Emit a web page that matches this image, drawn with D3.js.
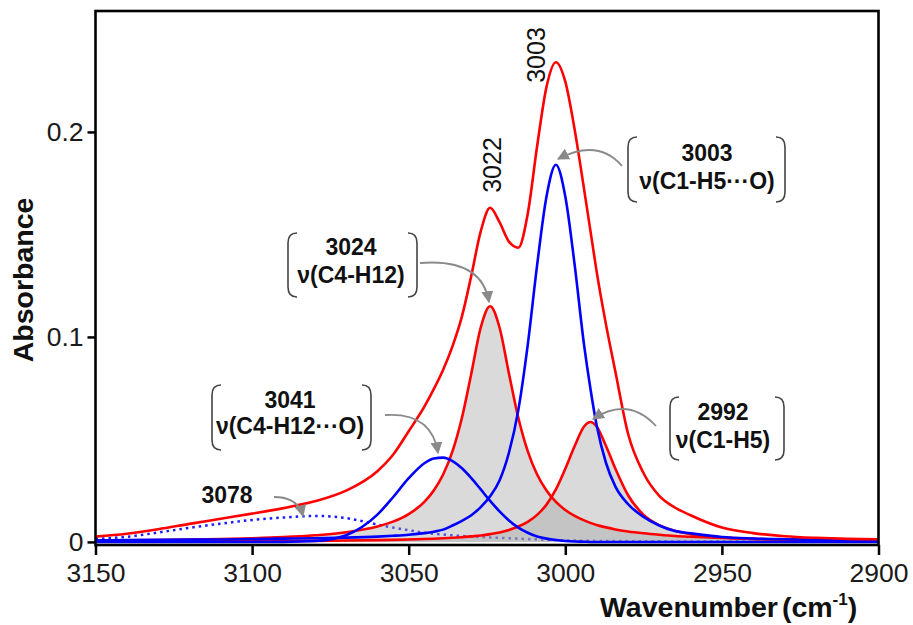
<!DOCTYPE html>
<html>
<head>
<meta charset="utf-8">
<script src="https://cdn.jsdelivr.net/npm/d3@7"></script>
<style>
  html, body { margin: 0; padding: 0; background: #fff; }
  svg { display: block; font-family: "Liberation Sans", Arial, sans-serif; }
</style>
</head>
<body>
<svg width="913" height="625"></svg>
<script>
// wavenumber grid (cm-1) shared by every trace
const wavenumbers = [3150, 3140, 3130, 3120, 3110, 3100, 3090, 3080, 3070, 3060, 3055, 3050, 3045, 3042, 3039,
  3036, 3033, 3030, 3027, 3024, 3021, 3018, 3015, 3012, 3009, 3006, 3003, 3000, 2997, 2994,
  2992, 2990, 2987, 2984, 2980, 2975, 2970, 2965, 2960, 2950, 2940, 2930, 2920, 2910, 2900];

// measured envelope
const envelope = [0.0026, 0.0040, 0.0062, 0.0088, 0.0113, 0.0138, 0.0165, 0.0198, 0.0250, 0.0345, 0.0425, 0.0540, 0.0660, 0.0745, 0.0840,
  0.0955, 0.1100, 0.1300, 0.1515, 0.1630, 0.1560, 0.1465, 0.1435, 0.1600, 0.1930, 0.2220, 0.2340, 0.2245, 0.2010, 0.1720,
  0.1520, 0.1320, 0.1060, 0.0830, 0.0530, 0.0335, 0.0225, 0.0168, 0.0130, 0.0070, 0.0043, 0.0028, 0.0020, 0.0015, 0.0013];

// fitted bands
const band3024 = [0.00065, 0.00077, 0.00092, 0.00112, 0.00139, 0.00177, 0.00233, 0.00322, 0.0047, 0.0075, 0.0099, 0.0136, 0.0195, 0.0251, 0.0329,
  0.0443, 0.0606, 0.0822, 0.1046, 0.115, 0.1046, 0.0822, 0.0606, 0.0443, 0.0329, 0.0251, 0.0195, 0.0156, 0.0127, 0.0105,
  0.0093, 0.0083, 0.0071, 0.0061, 0.0051, 0.0042, 0.0035, 0.0029, 0.0025, 0.0019, 0.0015, 0.0012, 0.00095, 0.0008, 0.0007];
const band3003 = [0.0008, 0.0009, 0.0010, 0.0011, 0.0012, 0.0014, 0.0016, 0.0018, 0.0021, 0.0026, 0.0030, 0.0035, 0.0043, 0.0050, 0.0060,
  0.0080, 0.0103, 0.0130, 0.0170, 0.0223, 0.0300, 0.0435, 0.0643, 0.096, 0.135, 0.1685, 0.184, 0.1685, 0.135, 0.096,
  0.075, 0.057, 0.0385, 0.027, 0.0185, 0.0122, 0.0080, 0.0053, 0.0042, 0.0024, 0.0017, 0.0013, 0.0010, 0.0008, 0.0007];
const band2992 = [0.00016, 0.00019, 0.00022, 0.00025, 0.0003, 0.00035, 0.00043, 0.00053, 0.00067, 0.00087, 0.0010, 0.00118, 0.0014, 0.00157, 0.00177,
  0.0020, 0.0023, 0.0027, 0.0031, 0.0038, 0.0046, 0.0058, 0.0075, 0.0098, 0.0132, 0.0182, 0.0256, 0.0357, 0.0468, 0.0563,
  0.0585, 0.0563, 0.0468, 0.0357, 0.0229, 0.0132, 0.0082, 0.0054, 0.0038, 0.0022, 0.00145, 0.00103, 0.0008, 0.0006, 0.0005];
const band3041 = [0, 0, 0, 0, 0, 0, 0.00004, 0.00045, 0.0033, 0.0133, 0.0218, 0.0311, 0.0384, 0.0407, 0.0411,
  0.0394, 0.0359, 0.0311, 0.0256, 0.0200, 0.0149, 0.0105, 0.0070, 0.0045, 0.0027, 0.0016, 0.0009, 0.00045, 0.0002, 0.0001,
  0, 0, 0, 0, 0, 0, 0, 0, 0, 0, 0, 0, 0, 0, 0];
const band3078 = [0.0015, 0.0025, 0.0046, 0.0069, 0.0089, 0.0107, 0.0119, 0.0127, 0.0116, 0.0085, 0.0070, 0.0057, 0.0045, 0.0040, 0.0036,
  0.0032, 0.0029, 0.0026, 0.0024, 0.0022, 0.0020, 0.0018, 0.0016, 0.0014, 0.0012, 0.0010, 0.0009, 0.0008, 0.0007, 0.0006,
  0.0006, 0.0005, 0.0005, 0.0004, 0.0004, 0.0003, 0.0003, 0.0002, 0.0002, 0.0002, 0.0002, 0.0002, 0.0002, 0.0002, 0.0002];

const xTicks = [3150, 3100, 3050, 3000, 2950, 2900];
const yTicks = [0, 0.1, 0.2];
const peakLabels = ["3003", "3022"];
const bandNumbers = ["3003", "3024", "3041", "2992"];
const bandModes = ["ν(C1-H5···O)", "ν(C4-H12)", "ν(C4-H12···O)", "ν(C1-H5)"];

const svg = d3.select("svg");
const plotLeft = 95.5, plotRight = 878.5, plotTop = 11, plotBottom = 545;

const x = d3.scaleLinear().domain([3150, 2900]).range([plotLeft, plotRight]);
const y = d3.scaleLinear().domain([-0.0015, 0.259]).range([plotBottom, plotTop]);

const defs = svg.append("defs");
defs.append("clipPath").attr("id", "plot")
  .append("rect").attr("x", plotLeft).attr("y", plotTop)
  .attr("width", plotRight - plotLeft).attr("height", plotBottom - plotTop);
defs.append("marker").attr("id", "head")
  .attr("markerUnits", "userSpaceOnUse")
  .attr("viewBox", "0 0 10 10").attr("refX", 9).attr("refY", 5)
  .attr("markerWidth", 12).attr("markerHeight", 12).attr("orient", "auto")
  .append("path").attr("d", "M0,0 L10,5 L0,10 z").attr("fill", "#8a8a8a");

const curve = d3.curveMonotoneX;
const line = d3.line().x((d, i) => x(wavenumbers[i])).y(d => y(d)).curve(curve);
const area = d3.area().x((d, i) => x(wavenumbers[i])).y0(y(0)).y1(d => y(d)).curve(curve);

const plot = svg.append("g").attr("clip-path", "url(#plot)");

// dotted 3078 band
plot.append("path").attr("d", line(band3078))
  .attr("fill", "none").attr("stroke", "#1a1aff").attr("stroke-width", 2.5)
  .attr("stroke-dasharray", "2.5,4");

// shaded bands
[band3024, band2992].forEach(b => {
  plot.append("path").attr("d", area(b)).attr("fill", "#a8a8a8").attr("fill-opacity", 0.42);
});

// band outlines
[[band3024, "#ff0000"], [band2992, "#ff0000"], [band3041, "#0000ff"], [band3003, "#0000ff"], [envelope, "#ff0000"]]
  .forEach(([b, c]) => {
    plot.append("path").attr("d", line(b))
      .attr("fill", "none").attr("stroke", c).attr("stroke-width", 2.6)
      .attr("stroke-linejoin", "round");
  });

// axes
const xAxis = svg.append("g").attr("transform", `translate(0,${plotBottom})`)
  .call(d3.axisBottom(x).tickValues(xTicks).tickSize(10).tickPadding(8).tickFormat(d3.format("d")));
xAxis.attr("font-size", 26.5).attr("font-family", null);
xAxis.select(".domain").remove();
xAxis.selectAll("line").attr("stroke", "#000").attr("stroke-width", 2.5);
xAxis.selectAll("text").attr("fill", "#1a1a1a");

const yAxis = svg.append("g").attr("transform", `translate(${plotLeft},0)`)
  .call(d3.axisLeft(y).tickValues(yTicks).tickSize(8).tickPadding(4)
    .tickFormat(d => d === 0 ? "0" : d3.format(".1f")(d)));
yAxis.attr("font-size", 26.5).attr("font-family", null);
yAxis.select(".domain").remove();
yAxis.selectAll("line").attr("stroke", "#000").attr("stroke-width", 2.5);
yAxis.selectAll("text").attr("fill", "#1a1a1a");

svg.append("rect").attr("x", plotLeft).attr("y", plotTop)
  .attr("width", plotRight - plotLeft).attr("height", plotBottom - plotTop)
  .attr("fill", "none").attr("stroke", "#000").attr("stroke-width", 2.6);

// axis titles
svg.append("text").attr("transform", "translate(33,280) rotate(-90)")
  .attr("text-anchor", "middle").attr("font-size", 28.5).attr("font-weight", "bold").attr("fill", "#111")
  .text("Absorbance");

const xt = svg.append("text").attr("x", 600).attr("y", 617)
  .attr("font-size", 28.5).attr("font-weight", "bold").attr("fill", "#111");
xt.append("tspan").text("Wavenumber");
xt.append("tspan").attr("dx", 4).text("(cm");
xt.append("tspan").attr("font-size", 17).attr("dy", -12).text("-1");
xt.append("tspan").attr("dy", 12).text(")");

// rotated peak labels
[[peakLabels[0], 545, 55], [peakLabels[1], 501, 165]].forEach(([t, px, py]) => {
  svg.append("text").attr("transform", `translate(${px},${py}) rotate(-90)`)
    .attr("text-anchor", "middle").attr("font-size", 25).attr("fill", "#111").text(t);
});

// bracketed band assignments
const boxes = [
  {x0: 628, x1: 785, y0: 137, y1: 202, cx: 707, b1: 161, b2: 189},
  {x0: 288, x1: 417, y0: 233, y1: 297, cx: 351, b1: 255, b2: 283},
  {x0: 212, x1: 371, y0: 385, y1: 450, cx: 290, b1: 408, b2: 434},
  {x0: 670, x1: 784, y0: 397, y1: 460, cx: 723, b1: 420, b2: 448}
];
boxes.forEach((b, i) => {
  const r = 10;
  svg.append("path")
    .attr("d", `M${b.x0 + 9},${b.y0} Q${b.x0},${b.y0} ${b.x0},${b.y0 + r} L${b.x0},${b.y1 - r} Q${b.x0},${b.y1} ${b.x0 + 9},${b.y1}` +
      ` M${b.x1 - 9},${b.y0} Q${b.x1},${b.y0} ${b.x1},${b.y0 + r} L${b.x1},${b.y1 - r} Q${b.x1},${b.y1} ${b.x1 - 9},${b.y1}`)
    .attr("fill", "none").attr("stroke", "#444").attr("stroke-width", 1.6);
  svg.append("text").attr("x", b.cx).attr("y", b.b1).attr("text-anchor", "middle")
    .attr("font-size", 23).attr("font-weight", "bold").attr("fill", "#111").text(bandNumbers[i]);
  svg.append("text").attr("x", b.cx).attr("y", b.b2).attr("text-anchor", "middle")
    .attr("font-size", 23).attr("font-weight", "bold").attr("fill", "#111").text(bandModes[i]);
});

svg.append("text").attr("x", 227).attr("y", 503).attr("text-anchor", "middle")
  .attr("font-size", 23).attr("font-weight", "bold").attr("fill", "#111").text("3078");

// curved pointer arrows
const arrows = [
  "M622,166 Q598,138 558,159",
  "M420,263 Q482,258 489,302",
  "M385,415 Q432,412 438,453",
  "M656,426 Q628,396 593,419",
  "M274,497 Q298,497 303,516"
];
arrows.forEach(d => {
  svg.append("path").attr("d", d).attr("fill", "none")
    .attr("stroke", "#8a8a8a").attr("stroke-width", 1.8).attr("marker-end", "url(#head)");
});
</script>
</body>
</html>
